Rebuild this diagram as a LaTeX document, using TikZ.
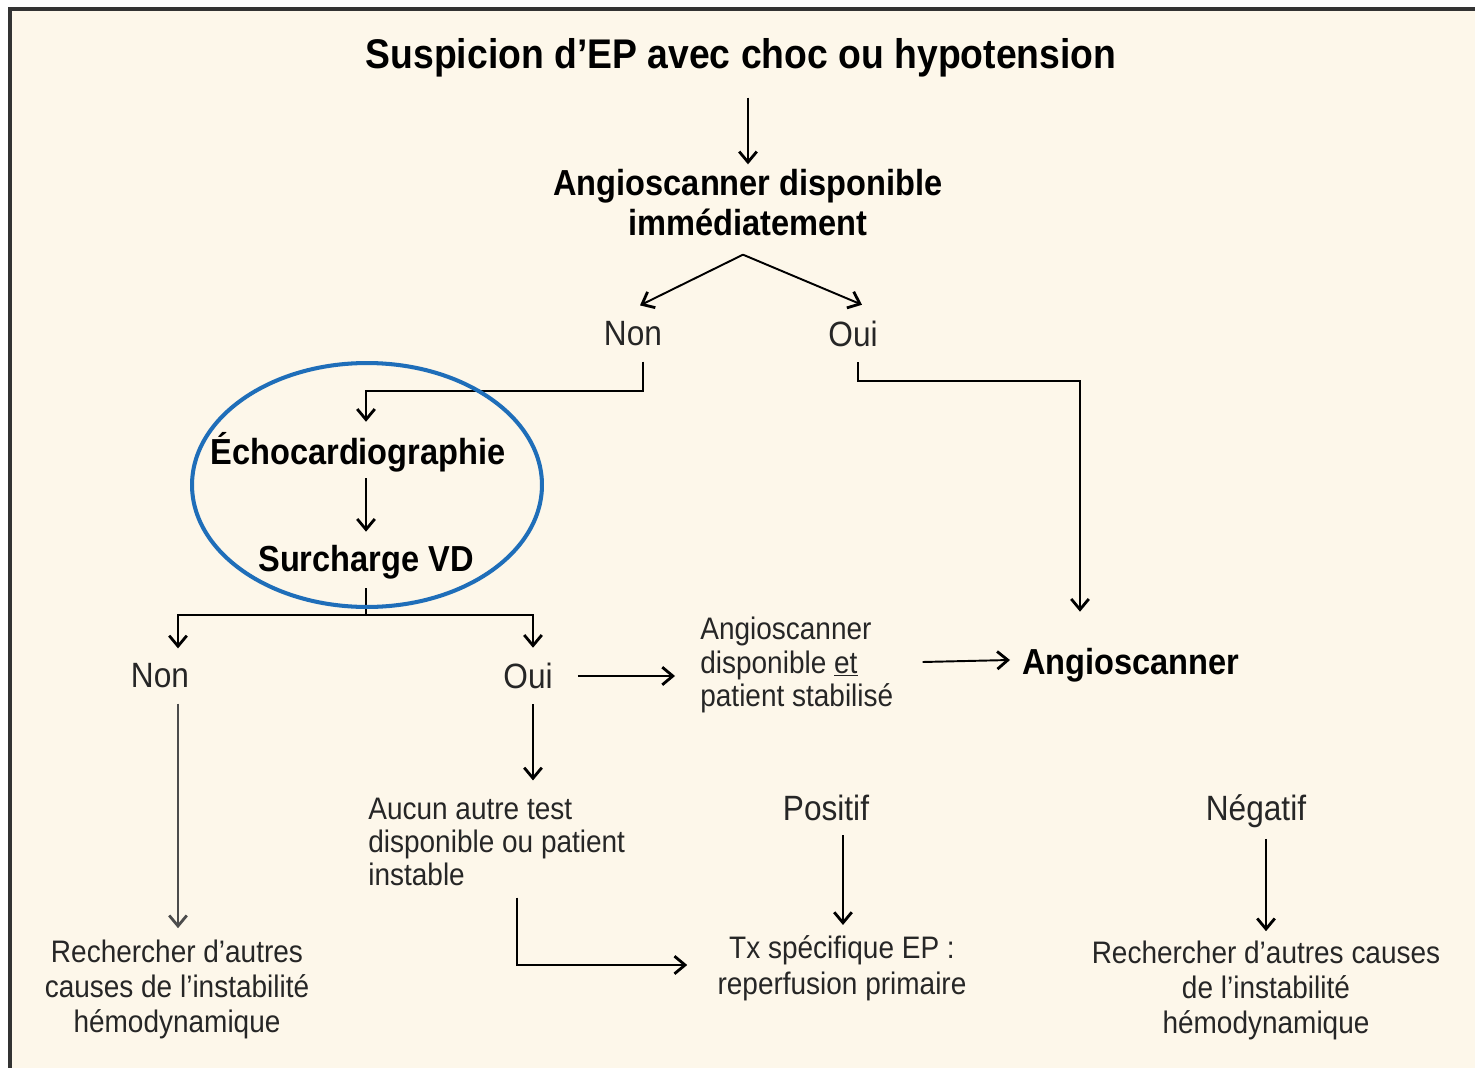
\documentclass[tikz,border=0pt]{standalone}
\usepackage{fontspec}
\setmainfont{Liberation Sans}[FakeStretch=0.9]
\usetikzlibrary{arrows.meta,calc,shapes.geometric}
\definecolor{cream}{RGB}{253,247,234}
\definecolor{ringblue}{RGB}{31,110,185}

\begin{document}
\begin{tikzpicture}[x=0.02cm,y=-0.02cm,
    arr/.style={-{Straight Barb[length=6pt,width=10pt,line width=1.6pt]},line width=1.1pt},
    big/.style={font=\bfseries\fontsize{23.6}{28}\selectfont,inner sep=0pt},
    head/.style={font=\bfseries\fontsize{20.6}{22.8}\selectfont,inner sep=0pt,align=center},
    ans/.style={font=\fontsize{20}{24}\selectfont,inner sep=0pt,text=black!85},
    note/.style={font=\fontsize{17.7}{19}\selectfont,inner sep=0pt,text=black!85}]
    \useasboundingbox (0,0) rectangle (1475,1068);
    \clip (0,0) rectangle (1475,1068);
    \fill[white] (0,0) rectangle (1475,1068);
    \filldraw[fill=cream,draw=black!80,line width=1.8pt] (10,9) rectangle (1500,1100);
    % nodes
    \node[big] (title) at (741,58) {Suspicion d’EP avec choc ou hypotension};
    \node[head] (q1) at (748,203) {Angioscanner disponible\\immédiatement};
    \node[ans] (non1) at (633,334) {Non};
    \node[ans] (oui1) at (853,334) {Oui};
    \node[head] (echo) at (358,452) {Échocardiographie};
    \node[head] (surch) at (366,562) {Surcharge VD};
    \node[ans] (non2) at (160,676) {Non};
    \node[ans] (oui2) at (528,676) {Oui};
    \node[note,anchor=west,align=left,font=\fontsize{17.7}{19}\selectfont] (stab) at (700,665) {Angioscanner\\disponible \underline{et}\\patient stabilisé};
    \node[head,anchor=west] (angio) at (1022,665) {Angioscanner};
    \node[note,anchor=west,align=left] (aucun) at (368,842) {Aucun autre test\\disponible ou patient\\instable};
    \node[ans] (pos) at (826,808) {Positif};
    \node[ans] (neg) at (1256,811) {Négatif};
    \node[note,align=center,font=\fontsize{17.7}{19.9}\selectfont] (rech1) at (177,989) {Rechercher d’autres\\causes de l’instabilité\\hémodynamique};
    \node[note,align=center,font=\fontsize{17.7}{20.5}\selectfont] (tx) at (842,968) {Tx spécifique EP :\\reperfusion primaire};
    \node[note,align=center,font=\fontsize{17.7}{19.9}\selectfont] (rech2) at (1266,990) {Rechercher d’autres causes\\de l’instabilité\\hémodynamique};
    % connectors
    \draw[arr] ($(q1.north |- title.south)+(0,20)$) -- ($(q1.north)+(0,-5)$);
    \coordinate (fork) at ($(q1.south)+(-5,18)$);
    \draw[arr] (fork) -- ($(non1.north)+(7,-16)$);
    \draw[arr] (fork) -- ($(oui1.north)+(9,-16)$);
    \draw[arr] ($(non1.south)+(10,15)$) -- ++(0,29) -| ($(echo.north)+(8,-10)$);
    \draw[arr] ($(oui1.south)+(5,15)$) -- ++(0,19) -| ($(angio.north west)+(58,-36)$);
    \draw[arr] ($(surch.north |- echo.south)+(0,6)$) -- ($(surch.north)+(0,-13)$);
    \draw[line width=1.1pt] ($(surch.south)+(0,9)$) -- ++(0,27) coordinate (split);
    \draw[arr] (split) -| ($(non2.north)+(18,-15)$);
    \draw[arr] (split) -| ($(oui2.north)+(5,-15)$);
    \draw[arr] ($(oui2.east)+(25,0)$) -- ($(oui2.east -| stab.west)+(-25,0)$);
    \draw[arr] ($(stab.east)+(29,-3)$) -- ($(angio.west)+(-12,-5)$);
    \draw[arr,draw=black!70] ($(non2.south)+(18,15)$) -- ($(rech1.north)+(1,-11)$);
    \draw[arr,line width=1.4pt] ($(oui2.south)+(5,15)$) -- ($(oui2.south |- aucun.north)+(5,-17)$);
    \draw[arr,line width=1.4pt] ($(aucun.south west)+(149,11)$) |- ($(tx.west)+(-30,-3)$);
    \draw[arr] ($(tx.north |- pos.south)+(1,14)$) -- ($(tx.north)+(1,-10)$);
    \draw[arr] ($(rech2.north |- neg.south)+(0,11)$) -- ($(rech2.north)+(0,-9)$);
    % highlight
    \node[draw=ringblue,line width=2.3pt,ellipse,inner sep=0pt,minimum width=7cm,minimum height=4.88cm] (ring) at (367,485) {};
\end{tikzpicture}
\end{document}
